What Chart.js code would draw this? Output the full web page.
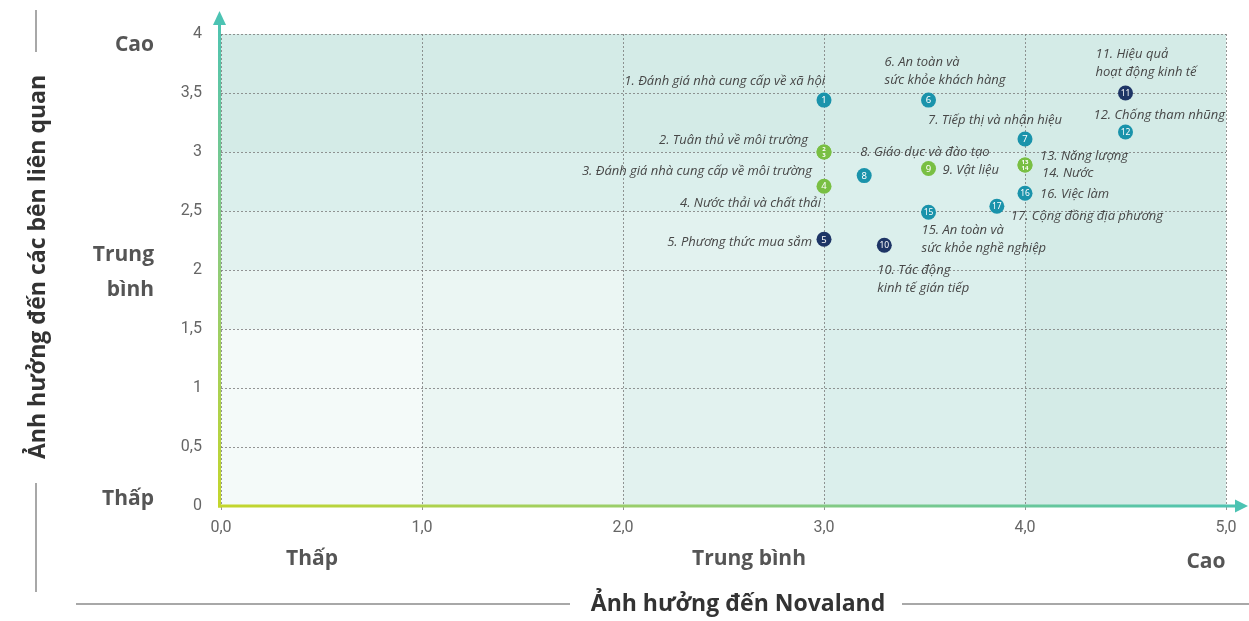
<!DOCTYPE html>
<html>
<head>
<meta charset="utf-8">
<script src="https://cdn.jsdelivr.net/npm/chart.js@4.4.0/dist/chart.umd.min.js"></script>
<style>
  html, body { margin: 0; padding: 0; background: #fff; }
  #wrap { width: 1249px; height: 621px; }
</style>
</head>
<body>
<div id="wrap"><canvas id="myChart"></canvas></div>
<script>
// topics (numbered as in the report)
var topics = [
  "Đánh giá nhà cung cấp về xã hội",
  "Tuân thủ về môi trường",
  "Đánh giá nhà cung cấp về môi trường",
  "Nước thải và chất thải",
  "Phương thức mua sắm",
  "An toàn và\nsức khỏe khách hàng",
  "Tiếp thị và nhận hiệu",
  "Giáo dục và đào tạo",
  "Vật liệu",
  "Tác động\nkinh tế gián tiếp",
  "Hiệu quả\nhoạt động kinh tế",
  "Chống tham nhũng",
  "Năng lượng",
  "Nước",
  "An toàn và\nsức khỏe nghề nghiệp",
  "Việc làm",
  "Cộng đồng địa phương"
];
// impact on Novaland (x)
var impactNovaland = [3.0, 3.0, 3.0, 3.0, 3.0, 3.52, 4.0, 3.2, 3.52, 3.3, 4.5, 4.5, 4.0, 4.0, 3.52, 4.0, 3.86];
// impact on stakeholders (y)
var impactStakeholders = [3.44, 3.0, 3.0, 2.71, 2.26, 3.44, 3.11, 2.8, 2.86, 2.21, 3.5, 3.17, 2.89, 2.89, 2.49, 2.65, 2.54];
// topic group: 0 social, 1 environment, 2 economic
var group = [0, 1, 1, 1, 2, 0, 0, 0, 1, 2, 2, 0, 1, 1, 0, 0, 0];

var xLevels = ["Thấp", "Trung bình", "Cao"];
var yLevels = ["Cao", "Trung\nbình", "Thấp"];

var groupColors = ["#1a93ab", "#79bf43", "#1e3566"];

// label placement next to each marker: dx, dy (px from the point), align
var labelPos = [
  [1, -19, "right"], [-16, -12, "right"], [-12, 19, "right"], [-3, 17, "right"],
  [-12, 3, "right"], [-44, -38, "left"], [-97, -19, "left"], [-4, -23, "left"],
  [14, 2, "left"], [-7, 25, "left"], [-30, -39, "left"], [-32, -17, "left"],
  [15, -9, "left"], [17, 8, "left"], [-7, 18, "left"], [15, 1, "left"], [14, 10, "left"]
];

// background zones, from the outer (darkest) to the inner (lightest)
var zoneX = [5, 4, 3, 2, 1];
var zoneY = [4, 3, 2.5, 2, 1.5];
var zoneColors = ["#d4ebe7", "#dbefec", "#e2f2ef", "#ebf6f3", "#f4faf9"];

var points = [];
for (var i = 0; i < topics.length; i++) {
  points.push({ x: impactNovaland[i], y: impactStakeholders[i] });
}

var zonesPlugin = {
  id: "zones",
  beforeDraw: function (chart) {
    var ctx = chart.ctx, xs = chart.scales.x, ys = chart.scales.y;
    ctx.save();
    for (var i = 0; i < zoneX.length; i++) {
      var x0 = xs.getPixelForValue(0) - 2, y0 = ys.getPixelForValue(0);
      var x1 = xs.getPixelForValue(zoneX[i]), y1 = ys.getPixelForValue(zoneY[i]);
      ctx.fillStyle = zoneColors[i];
      ctx.fillRect(x0, y1, x1 - x0, y0 - y1);
    }
    ctx.restore();
  }
};

var axesPlugin = {
  id: "arrows",
  beforeDatasetsDraw: function (chart) {
    var ctx = chart.ctx, a = chart.chartArea;
    var ax = a.left - 1.5;
    ctx.save();
    ctx.lineWidth = 3;
    // x axis
    var gx = ctx.createLinearGradient(ax, 0, a.right + 20, 0);
    gx.addColorStop(0, "#c4d62c");
    gx.addColorStop(0.5, "#8fcc7a");
    gx.addColorStop(1, "#4cc3b3");
    ctx.strokeStyle = gx;
    ctx.beginPath();
    ctx.moveTo(ax - 1.5, a.bottom);
    ctx.lineTo(a.right + 12, a.bottom);
    ctx.stroke();
    ctx.fillStyle = "#4cc3b3";
    ctx.beginPath();
    ctx.moveTo(a.right + 22, a.bottom);
    ctx.lineTo(a.right + 9, a.bottom - 6.5);
    ctx.lineTo(a.right + 9, a.bottom + 6.5);
    ctx.closePath();
    ctx.fill();
    // y axis
    var gy = ctx.createLinearGradient(0, a.bottom, 0, a.top - 20);
    gy.addColorStop(0, "#c4d62c");
    gy.addColorStop(0.5, "#8fcc7a");
    gy.addColorStop(1, "#4cc3b3");
    ctx.strokeStyle = gy;
    ctx.beginPath();
    ctx.moveTo(ax, a.bottom + 1.5);
    ctx.lineTo(ax, a.top - 12);
    ctx.stroke();
    ctx.beginPath();
    ctx.moveTo(ax, a.top - 23);
    ctx.lineTo(ax - 6.5, a.top - 9);
    ctx.lineTo(ax + 6.5, a.top - 9);
    ctx.closePath();
    ctx.fill();
    ctx.restore();
  }
};

var labelsPlugin = {
  id: "topicLabels",
  afterDatasetsDraw: function (chart) {
    var ctx = chart.ctx, meta = chart.getDatasetMeta(0);
    ctx.save();
    // numbers inside the markers
    var done = {};
    for (var i = 0; i < topics.length; i++) {
      var el = meta.data[i];
      var key = impactNovaland[i] + "_" + impactStakeholders[i];
      var same = [];
      for (var j = 0; j < topics.length; j++) {
        if (impactNovaland[j] === impactNovaland[i] && impactStakeholders[j] === impactStakeholders[i]) same.push(j + 1);
      }
      if (done[key]) continue;
      done[key] = true;
      ctx.fillStyle = "#ffffff";
      ctx.textAlign = "center";
      ctx.textBaseline = "middle";
      if (same.length > 1) {
        ctx.font = "bold 6px 'Noto Sans'";
        ctx.fillText(same[0], el.x, el.y - 3);
        ctx.fillText(same[1], el.x, el.y + 3.5);
      } else {
        ctx.font = (same[0] > 9 ? "8.5px" : "9.5px") + " 'Noto Sans'";
        ctx.fillText(same[0], el.x, el.y + 0.5);
      }
    }
    // topic names
    ctx.fillStyle = "#474747";
    ctx.font = "italic 13px 'Open Sans'";
    ctx.textBaseline = "middle";
    for (var k = 0; k < topics.length; k++) {
      var p = meta.data[k], lp = labelPos[k];
      var lines = topics[k].split("\n");
      ctx.textAlign = lp[2];
      for (var m = 0; m < lines.length; m++) {
        var txt = (m === 0 ? (k + 1) + ". " : "") + lines[m];
        ctx.fillText(txt, p.x + lp[0], p.y + lp[1] + m * 18);
      }
    }
    ctx.restore();
  },
  afterDraw: function (chart) {
    var ctx = chart.ctx;
    ctx.save();
    ctx.fillStyle = "#555555";
    ctx.textBaseline = "middle";
    // level words on the y side
    ctx.font = "bold 21px 'Open Sans'";
    ctx.textAlign = "right";
    ctx.fillText(yLevels[0], 154, 45);
    var mid = yLevels[1].split("\n");
    ctx.fillText(mid[0], 154, 255);
    ctx.fillText(mid[1], 154, 290);
    ctx.fillText(yLevels[2], 154, 499);
    // level words on the x side
    ctx.textAlign = "center";
    ctx.fillText(xLevels[0], 312, 559);
    ctx.fillText(xLevels[1], 749, 559);
    ctx.fillText(xLevels[2], 1206, 562);
    // axis titles
    ctx.fillStyle = "#333333";
    ctx.font = "bold 23px 'Open Sans'";
    ctx.fillText("Ảnh hưởng đến Novaland", 738, 604);
    ctx.save();
    ctx.translate(38, 267);
    ctx.rotate(-Math.PI / 2);
    ctx.fillText("Ảnh hưởng đến các bên liên quan", 0, 0);
    ctx.restore();
    // decorative rules
    ctx.strokeStyle = "#8c8c8c";
    ctx.lineWidth = 1.5;
    ctx.beginPath();
    ctx.moveTo(76, 604); ctx.lineTo(570, 604);
    ctx.moveTo(902, 604); ctx.lineTo(1249, 604);
    ctx.moveTo(36, 10); ctx.lineTo(36, 52);
    ctx.moveTo(36, 483); ctx.lineTo(36, 592);
    ctx.stroke();
    ctx.restore();
  }
};

var chart = new Chart(document.getElementById("myChart"), {
  type: "scatter",
  data: {
    datasets: [{
      data: points,
      backgroundColor: group.map(function (g) { return groupColors[g]; }),
      borderWidth: 0,
      pointRadius: 7.5,
      pointHoverRadius: 7.5
    }]
  },
  options: {
    responsive: true,
    maintainAspectRatio: false,
    animation: false,
    layout: { padding: { top: 34, right: 23, left: 0, bottom: 0 } },
    plugins: { legend: { display: false }, tooltip: { enabled: false } },
    scales: {
      x: {
        type: "linear",
        min: 0, max: 5,
        afterFit: function (s) { s.height = 115; },
        ticks: {
          stepSize: 1,
          padding: 8,
          color: "#666",
          font: { family: "Roboto", size: 16 },
          callback: function (v) { return v.toFixed(1).replace(".", ","); }
        },
        grid: { color: "#7a7a7a", lineWidth: 0.8, tickLength: 4 },
        border: { display: false, dash: [2, 2] }
      },
      y: {
        type: "linear",
        min: 0, max: 4,
        afterFit: function (s) { s.width = 221; },
        ticks: {
          stepSize: 0.5,
          padding: 19,
          color: "#666",
          font: { family: "Roboto", size: 16 },
          callback: function (v) { return String(v).replace(".", ","); }
        },
        grid: { color: "#7a7a7a", lineWidth: 0.8, drawTicks: false },
        border: { display: false, dash: [2, 2] }
      }
    }
  },
  plugins: [zonesPlugin, axesPlugin, labelsPlugin]
});
</script>
</body>
</html>
